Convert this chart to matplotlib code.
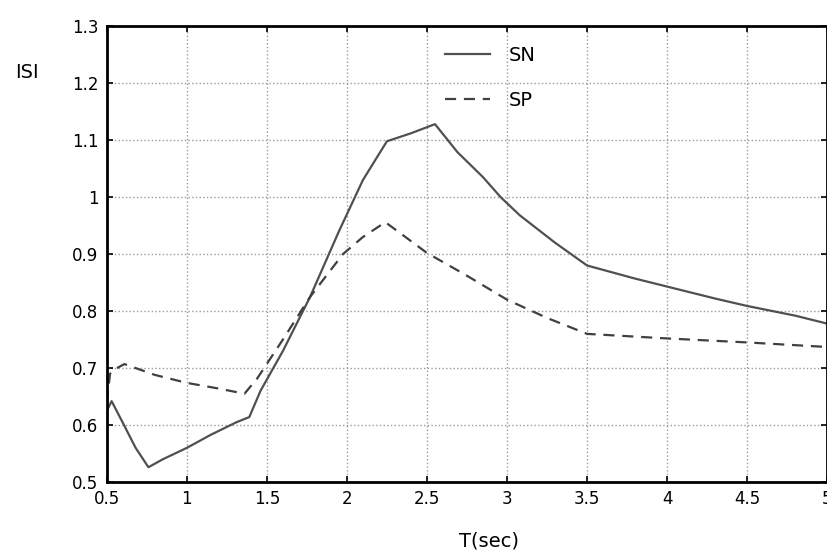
import matplotlib
matplotlib.use("Agg")
import matplotlib.pyplot as plt

# spectral ratio curves
sn_t = [0.5, 0.53, 0.60, 0.68, 0.76, 0.85, 1.0, 1.15, 1.31, 1.39, 1.46,
        1.6, 1.77, 1.95, 2.1, 2.21, 2.25, 2.4, 2.55, 2.69, 2.85, 2.96,
        3.08, 3.3, 3.5, 3.8, 4.0, 4.3, 4.5, 4.8, 5.0]
sn_isi = [0.625, 0.642, 0.604, 0.56, 0.526, 0.54, 0.56, 0.583, 0.605,
          0.614, 0.66, 0.73, 0.825, 0.94, 1.03, 1.08, 1.098, 1.112, 1.128,
          1.079, 1.035, 1.0, 0.968, 0.92, 0.88, 0.857, 0.843, 0.822, 0.809,
          0.792, 0.778]

sp_t = [0.5, 0.52, 0.55, 0.61, 0.8, 1.0, 1.2, 1.36, 1.44, 1.6, 1.77,
        1.975, 2.1, 2.24, 2.5, 2.75, 3.0, 3.25, 3.5, 4.0, 4.5, 5.0]
sp_isi = [0.64, 0.69, 0.698, 0.707, 0.688, 0.674, 0.664, 0.655, 0.682,
          0.75, 0.825, 0.9, 0.93, 0.956, 0.902, 0.862, 0.82, 0.788, 0.76,
          0.752, 0.745, 0.737]

x_ticks = [0.5, 1, 1.5, 2, 2.5, 3, 3.5, 4, 4.5, 5]
x_labels = ["0.5", "1", "1.5", "2", "2.5", "3", "3.5", "4", "4.5", "5"]
y_ticks = [0.5, 0.6, 0.7, 0.8, 0.9, 1.0, 1.1, 1.2, 1.3]
y_labels = ["0.5", "0.6", "0.7", "0.8", "0.9", "1", "1.1", "1.2", "1.3"]

fig = plt.figure(figsize=(8.28, 5.56), dpi=100)
ax = fig.add_axes([0.129, 0.133, 0.870, 0.820])

ax.plot(sn_t, sn_isi, color="#505050", lw=1.6, label="SN")
ax.plot(sp_t, sp_isi, color="#404040", lw=1.6, ls=(0, (5, 3.5)), label="SP")

ax.set_xlim(0.5, 5)
ax.set_ylim(0.5, 1.3)
ax.set_xticks(x_ticks)
ax.set_xticklabels(x_labels)
ax.set_yticks(y_ticks)
ax.set_yticklabels(y_labels)
ax.tick_params(direction="in", length=4, width=1.2, labelsize=12,
               pad=6, colors="black", top=True, right=True)
ax.grid(True, color="#9a9a9a", ls=":", lw=1)
for s in ax.spines.values():
    s.set_linewidth(2)
    s.set_color("black")

fig.text(0.018, 0.87, "ISI", fontsize=14, va="center")
fig.text(0.59, 0.027, "T(sec)", fontsize=14, ha="center", va="center")

ax.legend(loc="upper left", bbox_to_anchor=(0.445, 0.995), frameon=False,
          fontsize=14, handlelength=2.3, handletextpad=1.0,
          labelspacing=1.35)

fig.savefig("out.png", dpi=100)
